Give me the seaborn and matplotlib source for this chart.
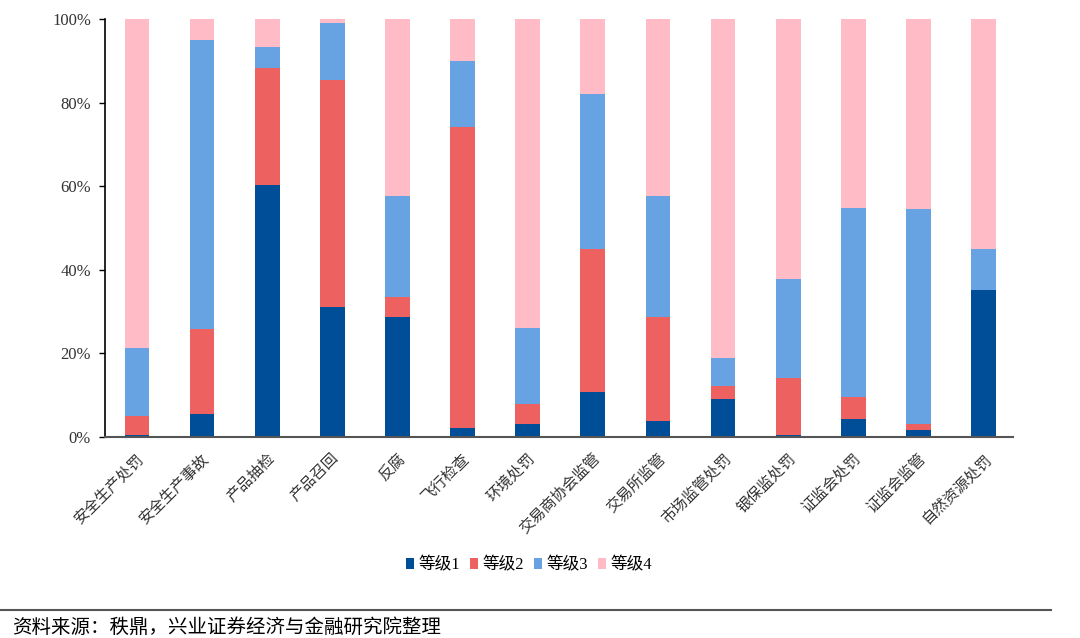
import numpy as np
import pandas as pd
import matplotlib
matplotlib.use("Agg")
import matplotlib.pyplot as plt
import seaborn as sns
from matplotlib.lines import Line2D
from matplotlib.patches import Patch

# ======================
# 数据（百分比，各等级占比）
# ======================
categories = ["安全生产处罚", "安全生产事故", "产品抽检", "产品召回", "反腐", "飞行检查",
              "环境处罚", "交易商协会监管", "交易所监管", "市场监管处罚", "银保监处罚",
              "证监会处罚", "证监会监管", "自然资源处罚"]
level1 = [0.6, 5.6, 60.3, 31.1, 28.8, 2.1, 3.0, 10.7, 3.8, 9.2, 0.5, 4.3, 1.6, 35.1]
level2 = [4.4, 20.2, 28.0, 54.4, 4.7, 72.0, 5.0, 34.3, 24.9, 2.9, 13.6, 5.3, 1.4, 0.0]
level3 = [16.2, 69.2, 5.0, 13.5, 24.2, 16.0, 18.1, 37.2, 29.0, 6.7, 23.6, 45.3, 51.6, 9.9]
level4 = [100 - a - b - c for a, b, c in zip(level1, level2, level3)]
series_names = ["等级1", "等级2", "等级3", "等级4"]
colors = ["#004E98", "#EE6161", "#67A3E3", "#FFBBC6"]

df = pd.DataFrame({"cat": categories, "等级1": level1, "等级2": level2,
                   "等级3": level3, "等级4": level4})

# 累计值，从上往下画（先画总高，再覆盖）
cum = df[series_names].cumsum(axis=1)

plt.rcParams["font.family"] = ["Liberation Serif", "Noto Sans CJK SC"]
fig = plt.figure(figsize=(10.8, 6.38), dpi=100)
ax = fig.add_axes([0.0972, 0.315, 0.8407, 0.655])

for name, col in reversed(list(zip(series_names, colors))):
    sns.barplot(x=df["cat"], y=cum[name], color=col, width=0.38,
                saturation=1, ax=ax, linewidth=0)

ax.set_ylim(0, 100)
ax.set_xlim(-0.49, 13.45)
ax.set_yticks([0, 20, 40, 60, 80, 100])
ax.set_yticklabels([f"{v}%" for v in [0, 20, 40, 60, 80, 100]], fontsize=12,
                   color="#333333")
ax.set_xticks(range(len(categories)))
ax.set_xticklabels(categories, rotation=45, ha="right", rotation_mode="anchor",
                   fontsize=11, color="#333333")
ax.tick_params(axis="x", length=0, pad=10)
ax.tick_params(axis="y", length=4, width=1, direction="out", color="black", pad=6)
ax.set_xlabel("")
ax.set_ylabel("")
for s in ["top", "right"]:
    ax.spines[s].set_visible(False)
ax.spines["left"].set_color("black")
ax.spines["bottom"].set_color("#555555")
ax.spines["left"].set_linewidth(1.2)
ax.spines["bottom"].set_linewidth(1.5)
ax.grid(False)

handles = [Patch(facecolor=c, label=n) for n, c in zip(series_names, colors)]
fig.legend(handles=handles, loc="center", bbox_to_anchor=(0.49, 0.114), ncol=4,
           frameon=False, fontsize=12, handlelength=0.45, handleheight=0.7,
           handletextpad=0.3, columnspacing=0.6)

fig.add_artist(Line2D([0, 0.973], [0.044, 0.044], color="#555555", lw=1.5))
fig.text(0.011, 0.017, "资料来源：秩鼎，兴业证券经济与金融研究院整理", fontsize=14,
         va="center", ha="left", color="black")

plt.savefig("out.png", dpi=100)
plt.close()
